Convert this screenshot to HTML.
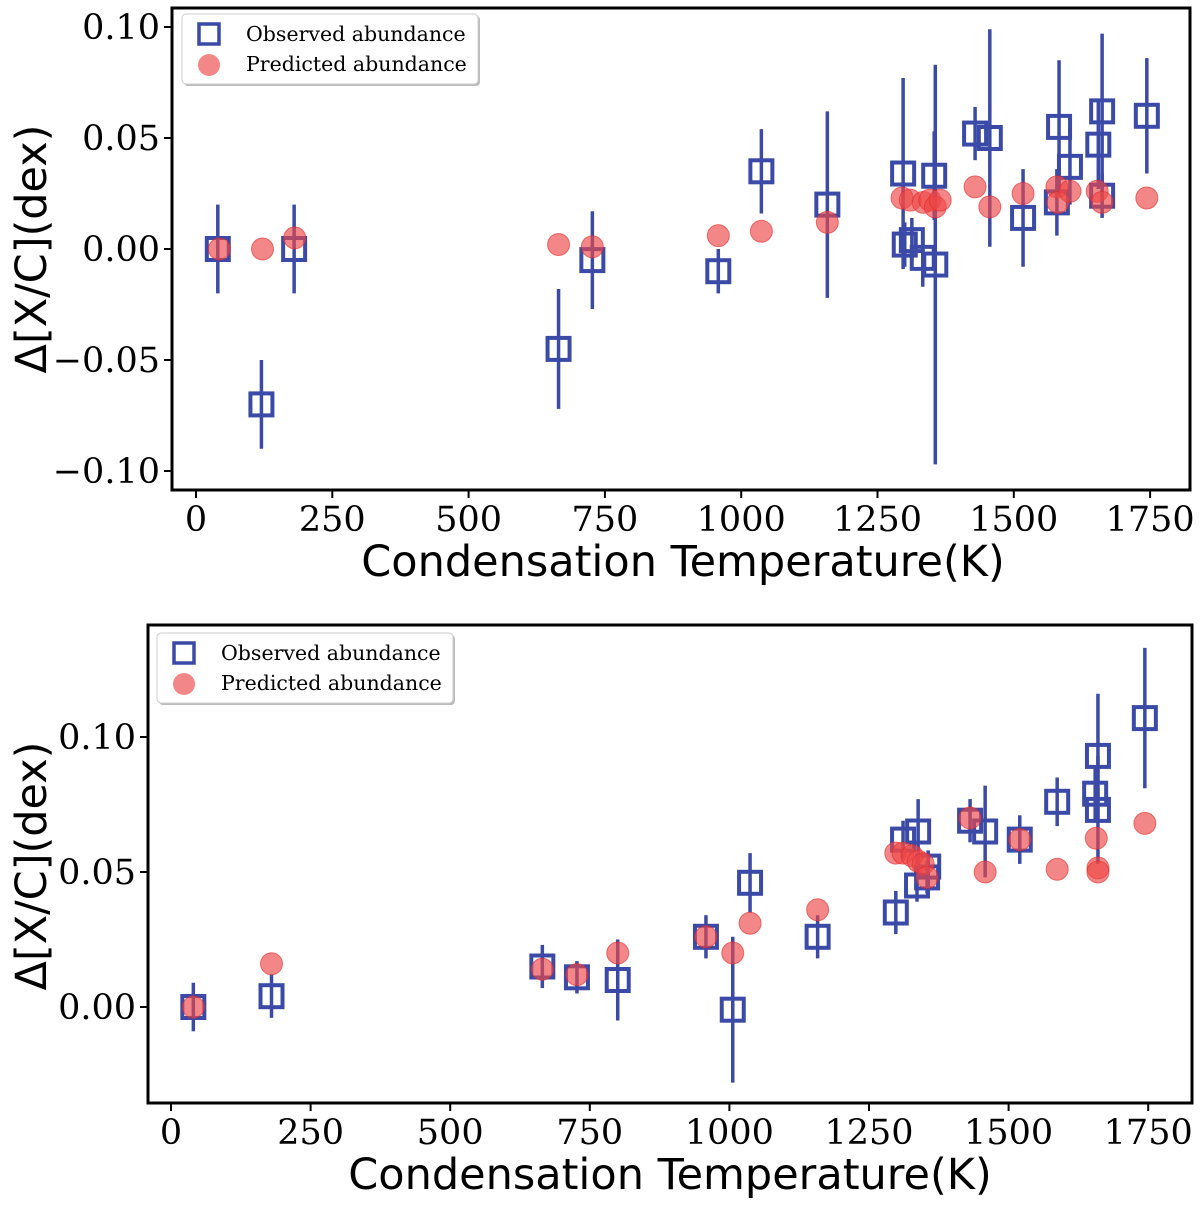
<!DOCTYPE html>
<html><head><meta charset="utf-8"><style>
body{margin:0;background:#fff}
svg{display:block}
.tk{font-family:"DejaVu Serif","Liberation Serif",serif;font-size:35px;fill:#000}
.al{font-family:"DejaVu Sans","Liberation Sans",sans-serif;font-size:43px;fill:#000}
.lg{font-family:"DejaVu Serif","Liberation Serif",serif;font-size:20.5px;fill:#000}
</style></head><body>
<svg id="chart" width="1200" height="1205" xmlns="http://www.w3.org/2000/svg"></svg>
<script>
const xTicks=[0,250,500,750,1000,1250,1500,1750];
const topYTicks=[0.10,0.05,0.00,-0.05,-0.10];
const botYTicks=[0.10,0.05,0.00];
const topObsT=[40,120,180,665,727,958,1037,1158,1297,1300,1313,1333,1354,1356,1429,1456,1517,1583,1603,1579,1662,1655,1662,1744];
const topObsV=[0,-0.07,0,-0.045,-0.005,-0.01,0.035,0.020,0.034,0.002,0.004,-0.004,0.033,-0.007,0.052,0.050,0.014,0.055,0.037,0.021,0.062,0.047,0.024,0.060];
const topObsE=[0.02,0.02,0.02,0.027,0.022,0.01,0.019,0.042,0.043,0.01,0.01,0.013,0.02,0.09,0.012,0.049,0.022,0.03,0.017,0.015,0.035,0.02,0.01,0.026];
const topPreT=[43,122,181,665,727,958,1037,1158,1295,1310,1334,1346,1356,1365,1429,1456,1517,1579,1581,1603,1653,1662,1744];
const topPreV=[0,0,0.005,0.002,0.001,0.006,0.008,0.012,0.023,0.022,0.021,0.022,0.019,0.022,0.028,0.019,0.025,0.028,0.021,0.026,0.026,0.021,0.023];
const botObsT=[40,180,665,727,800,958,1006,1037,1158,1298,1311,1338,1336,1356,1354,1431,1458,1520,1587,1660,1655,1660,1744];
const botObsV=[0,0.004,0.015,0.011,0.010,0.026,-0.001,0.046,0.026,0.035,0.062,0.065,0.045,0.052,0.048,0.069,0.065,0.062,0.076,0.093,0.079,0.073,0.107];
const botObsE=[0.009,0.008,0.008,0.006,0.015,0.008,0.027,0.011,0.008,0.008,0.007,0.012,0.006,0.006,0.006,0.008,0.017,0.009,0.009,0.023,0.01,0.02,0.026];
const botPreT=[40,180,665,727,800,958,1006,1037,1158,1298,1311,1327,1338,1347,1354,1431,1458,1520,1587,1657,1660,1660,1744];
const botPreV=[0,0.016,0.014,0.012,0.020,0.026,0.020,0.031,0.036,0.057,0.057,0.056,0.054,0.053,0.048,0.070,0.050,0.062,0.051,0.0625,0.0515,0.050,0.068];

const NS="http://www.w3.org/2000/svg";
const svg=document.getElementById('chart');
function mk(tag,at,parent){const e=document.createElementNS(NS,tag);for(const k in at)e.setAttribute(k,at[k]);(parent||svg).appendChild(e);return e;}
const BLUE="#3a4aa6";
function panel(p){
  const g=mk('g',{});
  
  
  const X=t=>p.x0+t*p.xs, Y=v=>p.y0-v*p.ys;
  for(let i=0;i<p.oT.length;i++){
    const l=mk('line',{x1:X(p.oT[i]),x2:X(p.oT[i]),y1:Y(p.oV[i]-p.oE[i]),y2:Y(p.oV[i]+p.oE[i]),stroke:BLUE,'stroke-width':3.5},g);
    
    
  }
  for(let i=0;i<p.oT.length;i++){
    const r=mk('rect',{x:X(p.oT[i])-11,y:Y(p.oV[i])-11,width:22,height:22,fill:'none',stroke:BLUE,'stroke-width':4},g);
    
    
  }
  for(let i=0;i<p.pT.length;i++){
    const c=mk('circle',{cx:X(p.pT[i]),cy:Y(p.pV[i]),r:11,fill:'rgba(236,70,70,0.65)',stroke:'rgba(230,40,40,0.6)','stroke-width':1},g);
    
    
  }
  const f=mk('rect',{x:p.L,y:p.T,width:p.R-p.L,height:p.B-p.T,fill:'none',stroke:'#000','stroke-width':3},g);
  
  
  xTicks.forEach(t=>{
    mk('line',{x1:X(t),x2:X(t),y1:p.B,y2:p.B+8,stroke:'#000','stroke-width':2},g);
    const tx=mk('text',{x:X(t),y:p.B+41,'text-anchor':'middle',class:'tk'},g);
    tx.textContent=t;
    
    
  });
  p.yt.forEach(v=>{
    mk('line',{x1:p.L-8,x2:p.L,y1:Y(v),y2:Y(v),stroke:'#000','stroke-width':2},g);
    const tx=mk('text',{x:p.L-12,y:Y(v)+12,'text-anchor':'end',class:'tk'},g);
    tx.textContent=(v<0?'\u2212':'')+Math.abs(v).toFixed(2);
    
    
  });
  const xl=mk('text',{x:p.xlx,y:p.B+86,'text-anchor':'middle',class:'al'},g);
  xl.textContent='Condensation Temperature(K)';
  
  
  const yl=mk('text',{x:0,y:0,'text-anchor':'middle',class:'al',transform:`translate(${p.ylx},${p.ylY}) rotate(-90)`},g);
  yl.textContent='\u0394[X/C](dex)';
  
  
  const lg=mk('g',{},g);
  
  
  mk('rect',{x:p.lgx+2,y:p.lgy+2,width:296,height:70,rx:4,fill:'#bbb'},lg);
  mk('rect',{x:p.lgx,y:p.lgy,width:296,height:70,rx:4,fill:'#fff',stroke:'#ccc','stroke-width':1},lg);
  mk('rect',{x:p.lgx+17,y:p.lgy+10,width:20,height:20,fill:'none',stroke:BLUE,'stroke-width':3.5},lg);
  mk('circle',{cx:p.lgx+27,cy:p.lgy+51,r:11,fill:'rgba(236,70,70,0.65)'},lg);
  const t1=mk('text',{x:p.lgx+64,y:p.lgy+27,class:'lg'},lg);t1.textContent='Observed abundance';
  
  
  const t2=mk('text',{x:p.lgx+64,y:p.lgy+57,class:'lg'},lg);t2.textContent='Predicted abundance';
  
  
}
panel({name:'top-panel',L:172,T:8,R:1190,B:490,x0:196,xs:0.5452,y0:249,ys:2220,yt:topYTicks,
  oT:topObsT,oV:topObsV,oE:topObsE,pT:topPreT,pV:topPreV,ylx:46,ylY:249,lgx:182,lgy:14,xlx:683});
panel({name:'bottom-panel',L:148,T:625,R:1192,B:1103,x0:171,xs:0.5584,y0:1007,ys:2700,yt:botYTicks,
  oT:botObsT,oV:botObsV,oE:botObsE,pT:botPreT,pV:botPreV,ylx:46,ylY:866,lgx:157,lgy:633,xlx:670});
</script>
</body></html>
